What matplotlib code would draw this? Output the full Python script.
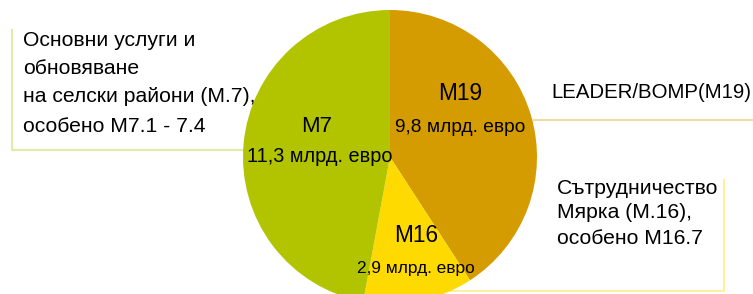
import matplotlib
matplotlib.use("Agg")
import matplotlib.pyplot as plt

plt.rcParams['font.family'] = ['Liberation Sans', 'DejaVu Sans']

# данные
measures = ["M19", "M16", "M7"]
values = [9.8, 2.9, 11.3]
value_labels = ["9,8 млрд. евро", "2,9 млрд. евро", "11,3 млрд. евро"]
colors = ["#D49C00", "#FFDA00", "#B2C400"]
desc_m7 = ["Основни услуги и", "обновяване", "на селски райони (М.7),", "особено М7.1 - 7.4"]
desc_m19 = "LEADER/BOMP(M19)"
desc_m16 = ["Сътрудничество", "Мярка (М.16),", "особено М16.7"]

W, H = 753, 294
fig = plt.figure(figsize=(W / 100, H / 100), dpi=100)
ax = fig.add_axes([0, 0, 1, 1])

cx, cy, r = 390, H - 157, 147


def py(y):
    return H - y


ax.pie(values, colors=colors, startangle=90, counterclock=False,
       center=(cx, cy), radius=r, frame=True,
       wedgeprops=dict(linewidth=0))

# линии-выноски
ax.plot([12, 12, 245], [py(30), py(150), py(150)], color="#E2EBA8", lw=1.5, zorder=0)
ax.plot([534, W], [py(120), py(120)], color="#EEDCA8", lw=1.5, zorder=0)
ax.plot([440, 724, 724], [py(291), py(291), py(180)], color="#FFF0A0", lw=1.5, zorder=0)

# подписи секторов
ax.text(317, py(127), measures[2], fontsize=16, ha="center", va="center")
ax.text(320, py(156), value_labels[2], fontsize=14.3, ha="center", va="center")
ax.text(460, py(93), measures[0], fontsize=16.3, ha="center", va="center")
ax.text(460, py(127), value_labels[0], fontsize=13.8, ha="center", va="center")
ax.text(416, py(236), measures[1], fontsize=16.3, ha="center", va="center")
ax.text(416, py(268), value_labels[1], fontsize=12.4, ha="center", va="center")

# описания
for line, y in zip(desc_m7, [41, 68, 96, 126]):
    ax.text(23, py(y), line, fontsize=15.2, ha="left", va="center")
ax.text(551, py(93), desc_m19, fontsize=14.7, ha="left", va="center")
for line, y in zip(desc_m16, [188, 213, 238]):
    ax.text(557, py(y), line, fontsize=15.2, ha="left", va="center")

ax.set_xlim(0, W)
ax.set_ylim(0, H)
ax.set_aspect("auto")
ax.axis("off")

fig.savefig("out.png", dpi=100)
